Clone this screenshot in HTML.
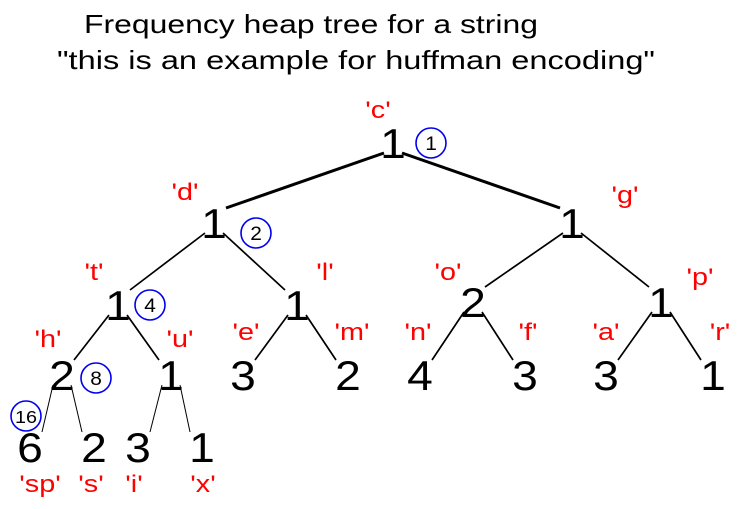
<!DOCTYPE html>
<html><head><meta charset="utf-8"><style>
html,body{margin:0;padding:0;background:#fff;}
svg{display:block;font-family:"Liberation Sans",sans-serif;}
</style></head><body>
<svg id="chart" width="738" height="509" viewBox="0 0 738 509">
<text x="84" y="33" font-size="26" fill="#000" textLength="454" lengthAdjust="spacingAndGlyphs">Frequency heap tree for a string</text>
<text x="57" y="69" font-size="26" fill="#000" textLength="598" lengthAdjust="spacingAndGlyphs">"this is an example for huffman encoding"</text>
<g id="edges"></g><g id="nodes"></g><g id="circles"></g>
</svg>
<script>
const nodeLabels=["'c'","'d'","'g'","'t'","'l'","'o'","'p'","'h'","'u'","'e'","'m'","'n'","'f'","'a'","'r'","'sp'","'s'","'i'","'x'"];
const nodeValues=[1,1,1,1,1,2,1,2,1,3,2,4,3,3,1,6,2,3,1];
const nodeX=[393,214,572,118,297,473,661,62,171,243,348,420,525,606,713,30,94,138,202];
const nodeY=[158,238,238,320,320,317,317,390,390,390,390,390,390,390,390,462,462,462,462];
const labelDX=[-15,-29,53,-24,28,-25,39,-14,9,3,4,-2,3,0,7,10,-3,-4,1];
const labelDY=[-40,-38,-35,-40,-40,-37,-32,-43,-43,-50,-50,-50,-50,-50,-50,30,30,30,30];
const parentIdx=[-1,0,0,1,1,2,2,3,3,4,4,5,5,6,6,7,7,8,8];
const circleNums=[1,2,4,8,16];
const circleNode=[0,1,3,7,15];
const circleDX=[38,42,32,34,-4];
const circleDY=[-15,-5,-15,-12,-46];
const NS="http://www.w3.org/2000/svg";
const eg=document.getElementById('edges'),ng=document.getElementById('nodes'),cg=document.getElementById('circles');
function mk(t,a){const e=document.createElementNS(NS,t);for(const k in a)e.setAttribute(k,a[k]);return e;}
nodeValues.forEach((v,i)=>{
  const p=parentIdx[i];
  if(p>=0){
    const px=nodeX[p],py=nodeY[p],cx=nodeX[i],cy=nodeY[i];
    const s=cx>px?1:-1;
    const w=p===0?3:(i>=15?1:1.7);
    const l=mk('line',{x1:px+s*9,y1:py-5,x2:cx-s*12,y2:cy-30,stroke:'#000','stroke-width':w});
    
    
    eg.appendChild(l);
  }
  const t=mk('text',{transform:'translate('+nodeX[i]+','+nodeY[i]+') scale(1.1,1)','font-size':42,'text-anchor':'middle',fill:'#000'});
  t.textContent=v;
  
  
  ng.appendChild(t);
  const lb=mk('text',{transform:'translate('+(nodeX[i]+labelDX[i])+','+(nodeY[i]+labelDY[i])+') scale(1.2,1)','font-size':24,'text-anchor':'middle',fill:'#ff0000'});
  lb.textContent=nodeLabels[i];
  
  
  ng.appendChild(lb);
});
circleNums.forEach((n,j)=>{
  const k=circleNode[j],cx=nodeX[k]+circleDX[j],cy=nodeY[k]+circleDY[j];
  const c=mk('circle',{cx:cx,cy:cy,r:15,fill:'none',stroke:'#0000ee','stroke-width':1.6});
  
  
  cg.appendChild(c);
  const t=mk('text',{transform:'translate('+cx+','+(cy+7)+') scale(1.1,1)','font-size':n>9?18:19,'text-anchor':'middle',fill:'#000'});
  t.textContent=n;
  
  
  cg.appendChild(t);
});
</script>
</body></html>
